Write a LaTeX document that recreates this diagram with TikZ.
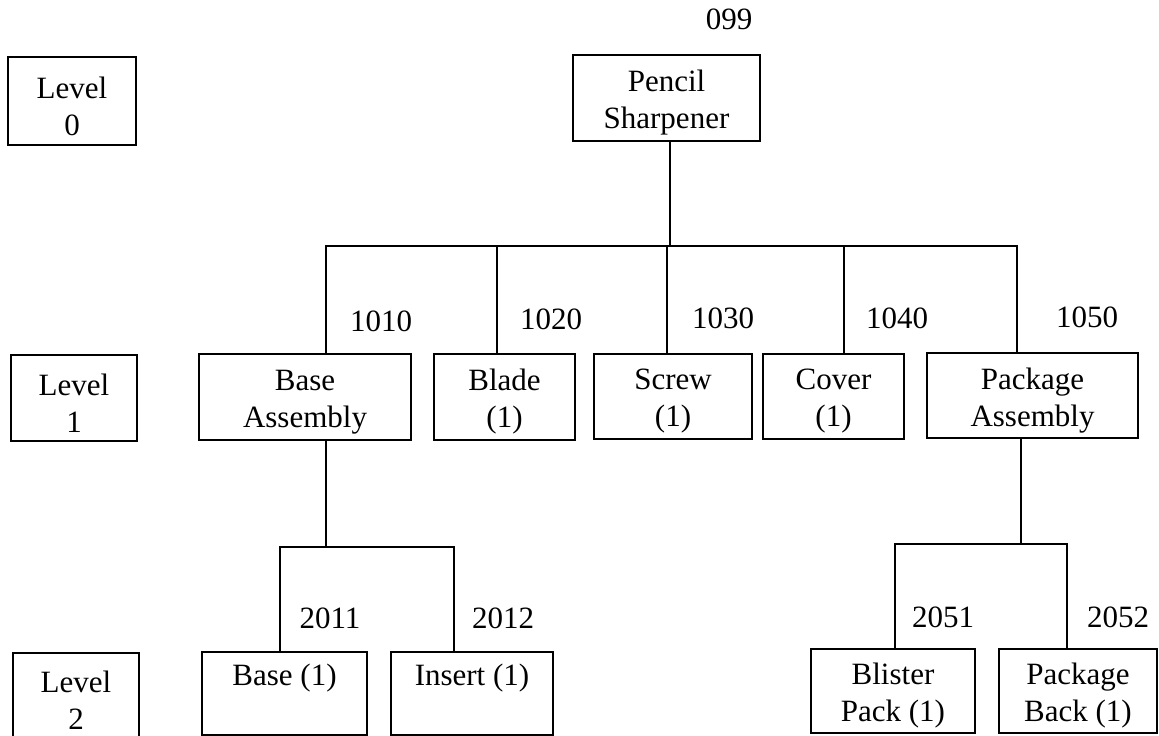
\documentclass[tikz,border=0pt]{standalone}
\usepackage{fontspec}
\setmainfont{Liberation Serif}
\begin{document}
\begin{tikzpicture}[x=1pt,y=-1pt,
  every node/.style={font=\fontsize{31}{37}\selectfont},
  box/.style={draw,line width=2.2pt,inner sep=0pt},
  boxtext/.style={align=center,inner sep=0pt},
  conn/.style={line width=2.2pt},
  num/.style={inner sep=0pt}]
\useasboundingbox (0,0) rectangle (1159,736);
\newcommand{\bx}[6]{\node[box,minimum width=#4-#2,minimum height=#5-#3] (#1) at ({(#2+#4)/2},{(#3+#5)/2}) {};
  \node[boxtext] (#1t) at ([yshift=-5pt]#1.center) {#6};}
% level boxes
\bx{L0}{8}{57}{136}{145}{Level\\0}
\bx{L1}{11}{355}{137}{441}{Level\\1}
\bx{L2}{13}{653}{139}{737}{Level\\2}
% level 0
\bx{PS}{573}{55}{760}{141}{Pencil\\Sharpener}
% level 1
\bx{BA}{199}{354}{411}{440}{Base\\Assembly}
\bx{BL}{434}{354}{575}{440}{Blade\\(1)}
\bx{SC}{594}{354}{752}{439}{Screw\\(1)}
\bx{CO}{763}{354}{904}{439}{Cover\\(1)}
\bx{PA}{927}{353}{1138}{438}{Package\\Assembly}
% level 2
\bx{BS}{202}{652}{367}{735}{Base (1)\\\strut}
\bx{IN}{391}{652}{553}{735}{Insert (1)\\\strut}
\bx{BP}{811}{649}{975}{733}{Blister\\Pack (1)}
\bx{PB}{999}{649}{1157}{733}{Package\\Back (1)}
% coordinates
\coordinate (bus) at (670,246);
\coordinate (d1) at (326,0);
\coordinate (d2) at (497,0);
\coordinate (d3) at (667,0);
\coordinate (d4) at (844,0);
\coordinate (d5) at (1017,0);
\coordinate (sb1) at (326,547);
\coordinate (e1) at (280,0);
\coordinate (e2) at (454,0);
\coordinate (sb2) at (1021,544);
\coordinate (f1) at (895,0);
\coordinate (f2) at (1067,0);
% connectors
\draw[conn] (PS.south -| bus) -- (bus);
\draw[conn] (BA.north -| d1) |- (bus);
\draw[conn] (BL.north -| d2) |- (bus);
\draw[conn] (SC.north -| d3) |- (bus);
\draw[conn] (CO.north -| d4) |- (bus);
\draw[conn] (PA.north -| d5) |- (bus);
\draw[conn] (BA.south -| sb1) -- (sb1);
\draw[conn] (BS.north -| e1) |- (sb1);
\draw[conn] (IN.north -| e2) |- (sb1);
\draw[conn] (PA.south -| sb2) -- (sb2);
\draw[conn] (BP.north -| f1) |- (sb2);
\draw[conn] (PB.north -| f2) |- (sb2);
% numbers
\node[num] (n099) at (729,19) {099};
\node[num] (n1010) at (381,321) {1010};
\node[num] (n1020) at (551,319) {1020};
\node[num] (n1030) at (723,318) {1030};
\node[num] (n1040) at (897,318) {1040};
\node[num] (n1050) at (1087,317) {1050};
\node[num] (n2011) at (330,618) {2011};
\node[num] (n2012) at (503,618) {2012};
\node[num] (n2051) at (943,617) {2051};
\node[num] (n2052) at (1118,617) {2052};
\end{tikzpicture}
\end{document}
